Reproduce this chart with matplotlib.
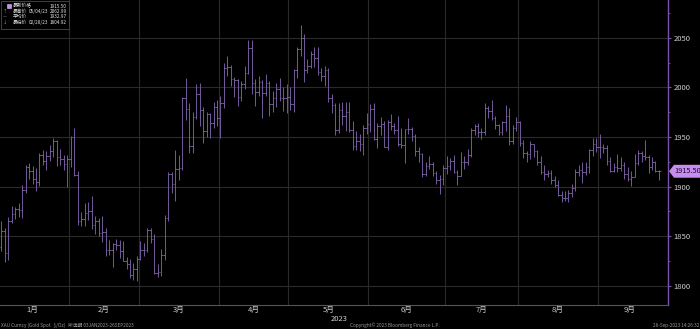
import numpy as np
import pandas as pd
import matplotlib
matplotlib.use("Agg")
import matplotlib.pyplot as plt
from matplotlib.patches import Polygon, Rectangle
from matplotlib.transforms import blended_transform_factory

plt.rcParams['font.family'] = ['Noto Sans CJK SC', 'DejaVu Sans']

# daily OHLC, XAU spot, 03JAN2023 - 26SEP2023
opens = [
    1824, 1839, 1855, 1833, 1865, 1872, 1877, 1876, 1897, 1920, 1916, 1908, 1905, 1932, 1926, 1931, 1936, 1946, 1930, 1928, 1923,
    1928, 1950, 1912, 1865, 1867, 1873, 1875, 1861, 1865, 1853, 1854, 1836, 1836, 1842, 1841, 1835, 1825, 1822, 1811, 1817,
    1827, 1836, 1836, 1856, 1847, 1813, 1814, 1831, 1868, 1913, 1903, 1918, 1919, 1989, 1978, 1941, 1970, 1993, 1977, 1956, 1973, 1964, 1980,
    1969, 1984, 2020, 2021, 2008, 2007, 1990, 2003, 2014, 2040, 2004, 1995, 2005, 1994, 2004, 1983, 1989, 1998, 1989, 1989,
    1990, 1983, 2017, 2039, 2050, 2017, 2022, 2034, 2030, 2015, 2011, 2017, 1989, 1982, 1957, 1977, 1971, 1975, 1957, 1941, 1946, 1943, 1959,
    1963, 1978, 1948, 1961, 1963, 1940, 1965, 1961, 1957, 1943, 1942, 1958, 1958, 1951, 1936, 1933, 1913, 1921, 1923, 1914, 1907, 1908,
    1919, 1921, 1926, 1915, 1911, 1925, 1925, 1932, 1957, 1961, 1955, 1955, 1979, 1976, 1969, 1962, 1955, 1965, 1971, 1946, 1959,
    1965, 1944, 1934, 1933, 1943, 1936, 1925, 1915, 1913, 1914, 1907, 1902, 1892, 1889, 1889, 1894, 1899, 1915, 1917, 1915, 1920, 1937, 1943,
    1940, 1940, 1939, 1926, 1916, 1920, 1919, 1922, 1913, 1908, 1910, 1924, 1934, 1931, 1930, 1920, 1925, 1916,
]
highs = [
    1851, 1865, 1858, 1869, 1881, 1880, 1884, 1902, 1922, 1924, 1921, 1919, 1934, 1937, 1936, 1942, 1949, 1947, 1938, 1932, 1932,
    1951, 1959, 1916, 1874, 1884, 1885, 1891, 1870, 1868, 1870, 1858, 1846, 1843, 1847, 1846, 1845, 1829, 1827, 1823, 1830,
    1845, 1843, 1858, 1858, 1852, 1822, 1837, 1871, 1915, 1915, 1937, 1932, 1990, 2009, 1984, 1975, 2003, 2004, 1980, 1975, 1974, 1985, 1987,
    1991, 2025, 2032, 2023, 2010, 2008, 2006, 2022, 2048, 2048, 2008, 2011, 2007, 2013, 2006, 1996, 2004, 2009, 2000, 2003,
    2000, 2019, 2041, 2063, 2054, 2029, 2037, 2041, 2041, 2020, 2022, 2020, 1993, 1984, 1984, 1985, 1985, 1985, 1966, 1956, 1953, 1962, 1974,
    1983, 1984, 1964, 1970, 1966, 1967, 1973, 1964, 1971, 1959, 1958, 1969, 1960, 1953, 1940, 1934, 1925, 1931, 1925, 1916, 1912, 1922,
    1931, 1929, 1932, 1917, 1935, 1931, 1938, 1959, 1963, 1964, 1959, 1984, 1981, 1987, 1971, 1963, 1966, 1982, 1979, 1962, 1970,
    1966, 1947, 1936, 1946, 1943, 1937, 1931, 1922, 1917, 1917, 1911, 1907, 1896, 1896, 1897, 1903, 1918, 1922, 1925, 1925, 1938, 1949, 1949,
    1953, 1943, 1942, 1930, 1924, 1933, 1930, 1925, 1920, 1916, 1933, 1937, 1936, 1947, 1932, 1930, 1926, 1917,
]
lows = [
    1822, 1835, 1824, 1826, 1863, 1867, 1869, 1868, 1894, 1908, 1903, 1896, 1901, 1922, 1917, 1926, 1930, 1921, 1922, 1917, 1900,
    1920, 1911, 1861, 1860, 1860, 1866, 1857, 1852, 1850, 1844, 1830, 1831, 1819, 1836, 1828, 1825, 1817, 1808, 1806, 1805,
    1826, 1830, 1834, 1843, 1812, 1809, 1810, 1826, 1865, 1894, 1886, 1907, 1917, 1967, 1934, 1934, 1968, 1961, 1944, 1950, 1949, 1959, 1961,
    1949, 1979, 2011, 2001, 1990, 1981, 1986, 1998, 2013, 1993, 1981, 1991, 1969, 1991, 1971, 1975, 1980, 1986, 1976, 1974,
    1977, 1975, 2009, 2032, 2005, 2014, 2020, 2021, 2012, 2006, 2001, 1985, 1974, 1952, 1954, 1962, 1956, 1955, 1937, 1937, 1936, 1932, 1953,
    1955, 1947, 1939, 1952, 1940, 1937, 1957, 1953, 1941, 1939, 1924, 1953, 1946, 1931, 1925, 1910, 1911, 1918, 1911, 1903, 1893, 1902,
    1913, 1917, 1914, 1902, 1911, 1918, 1922, 1930, 1952, 1950, 1948, 1952, 1969, 1967, 1958, 1952, 1952, 1956, 1942, 1943, 1956,
    1941, 1929, 1925, 1928, 1930, 1922, 1913, 1907, 1910, 1903, 1900, 1891, 1885, 1886, 1885, 1890, 1896, 1911, 1904, 1912, 1914, 1931, 1935,
    1929, 1934, 1922, 1915, 1915, 1915, 1916, 1908, 1906, 1901, 1910, 1922, 1925, 1927, 1914, 1917, 1915, 1907,
]
closes = [
    1839, 1855, 1833, 1865, 1872, 1877, 1876, 1897, 1920, 1916, 1908, 1905, 1932, 1926, 1931, 1936, 1946, 1930, 1928, 1923, 1928,
    1950, 1912, 1865, 1867, 1873, 1875, 1861, 1865, 1853, 1854, 1836, 1836, 1842, 1841, 1835, 1825, 1822, 1811, 1817, 1827,
    1836, 1836, 1856, 1847, 1813, 1814, 1831, 1868, 1913, 1903, 1918, 1919, 1989, 1978, 1941, 1970, 1993, 1977, 1956, 1973, 1964, 1980, 1969,
    1984, 2020, 2021, 2008, 2007, 1990, 2003, 2014, 2040, 2004, 1995, 2005, 1994, 2004, 1983, 1989, 1998, 1989, 1989, 1990,
    1983, 2017, 2039, 2050, 2017, 2022, 2034, 2030, 2015, 2011, 2017, 1989, 1982, 1957, 1977, 1971, 1975, 1957, 1941, 1946, 1943, 1959, 1963,
    1978, 1948, 1961, 1963, 1940, 1965, 1961, 1957, 1943, 1942, 1958, 1958, 1951, 1936, 1933, 1913, 1921, 1923, 1914, 1907, 1908, 1919,
    1921, 1926, 1915, 1911, 1925, 1925, 1932, 1957, 1961, 1955, 1955, 1979, 1976, 1969, 1962, 1955, 1965, 1971, 1946, 1959, 1965,
    1944, 1934, 1933, 1943, 1936, 1925, 1915, 1913, 1914, 1907, 1902, 1892, 1889, 1889, 1894, 1899, 1915, 1917, 1915, 1920, 1937, 1943, 1940,
    1940, 1939, 1926, 1916, 1920, 1919, 1922, 1913, 1908, 1910, 1924, 1934, 1931, 1930, 1920, 1925, 1916, 1915.5,
]
month_labels = ['1月', '2月', '3月', '4月', '5月', '6月', '7月', '8月', '9月']
y_ticks = [1800, 1850, 1900, 1950, 2000, 2050]

legend_rows = [
    ('最新价格', '', '1915.50'),
    ('最高价', '05/04/23', '2062.99'),
    ('平均价', '', '1932.97'),
    ('最低价', '02/28/23', '1804.92'),
]

W, H = 700, 329
bar_col = '#7c60a6'
purple = '#7a52b0'
grid_col = '#2a2a2a'
txt_col = '#d0d0d0'

dates = pd.bdate_range('2023-01-03', '2023-09-26')
x = np.arange(len(dates))
months = dates.month.values
starts = [int(np.argmax(months == m)) for m in range(1, 10)]
ends = starts[1:] + [len(dates)]
bounds = [s - 0.5 for s in starts[1:]]
centers = [(s + e - 1) / 2 for s, e in zip(starts, ends)]

fig = plt.figure(figsize=(W / 100, H / 100), dpi=100, facecolor='black')
ax = fig.add_axes([0, (H - 305) / H, 668 / W, 305 / H], facecolor='black')

ax.vlines(x, lows, highs, color=bar_col, lw=0.65)
ax.hlines(opens, x - 0.45, x, color=bar_col, lw=0.65)
ax.hlines(closes, x, x + 0.45, color=bar_col, lw=0.65)

ax.set_xlim(0.65, 192.6)
ax.set_ylim(1780.8, 2088)

ax.set_xticks(bounds)
ax.set_xticklabels([])
ax.set_xticks(centers, minor=True)
ax.set_xticklabels(month_labels, minor=True)
ax.tick_params(axis='x', which='both', length=0, colors=txt_col, labelsize=5.5, pad=1)

ax.yaxis.tick_right()
ax.set_yticks(y_ticks)
ax.set_yticks(np.arange(1800, 2076, 25), minor=True)
ax.tick_params(axis='y', which='major', length=2.5, color=purple, labelcolor=txt_col,
               labelsize=5.5, pad=1.5)
ax.tick_params(axis='y', which='minor', length=1.5, color=purple)
ax.grid(True, which='major', color=grid_col, lw=0.8)
ax.set_axisbelow(True)

for s in ['left', 'top']:
    ax.spines[s].set_visible(False)
ax.spines['right'].set_color(purple)
ax.spines['right'].set_linewidth(1.0)
ax.spines['bottom'].set_color('#555555')
ax.spines['bottom'].set_linewidth(0.8)

ax.text(centers[4] + 3, -0.045, '2023', transform=blended_transform_factory(ax.transData, ax.transAxes),
        color=txt_col, fontsize=5.5, ha='center', va='center')

# last price tag
last = closes[-1]
tr = blended_transform_factory(ax.transAxes, ax.transData)
tag = Polygon([(1.0015, last), (1.009, last + 6.5), (1.049, last + 6.5),
               (1.049, last - 6.5), (1.009, last - 6.5)], closed=True,
              transform=tr, clip_on=False, facecolor='#c68cf0', edgecolor='none')
ax.add_patch(tag)
ax.text(1.029, last, f'{last:.2f}', transform=tr, color='#1a0a24', fontsize=5.3,
        ha='center', va='center', clip_on=False)

# legend box top-left
fig.add_artist(Rectangle((1 / W, 1 - 29 / H), 68 / W, 28 / H, transform=fig.transFigure,
                         facecolor='black', edgecolor='#4a4a4a', lw=0.6))
fig.add_artist(Rectangle((6.5 / W, 1 - 8.3 / H), 4.5 / W, 4.3 / H, transform=fig.transFigure,
                         facecolor='#c68cf0', edgecolor='#e0c0ff', lw=0.4))
marks = ['', '↑', '—', '↓']
for i, (name, date, val) in enumerate(legend_rows):
    yy = 1 - (6.2 + 5.3 * i) / H
    if marks[i]:
        fig.text(3 / W, yy, marks[i], color='#a0a0a0', fontsize=3.2, ha='left', va='center')
    fig.text(13 / W, yy, name, color='#e0e0e0', fontsize=3.4, ha='left', va='center')
    if date:
        fig.text(28.5 / W, yy, date, color='#e0e0e0', fontsize=3.4, ha='left', va='center')
    fig.text(67 / W, yy, val, color='#e0e0e0', fontsize=3.4, ha='right', va='center')

# footer
fig.text(1 / W, 1 - 325.5 / H, 'XAU Curncy (Gold Spot   $/Oz)   所选期 03JAN2023-26SEP2023',
         color='#9a9a9a', fontsize=3.4, ha='left', va='center')
fig.text(350 / W, 1 - 325.5 / H, 'Copyright© 2023 Bloomberg Finance L.P.',
         color='#9a9a9a', fontsize=3.4, ha='left', va='center')
fig.text(699 / W, 1 - 325.5 / H, '26-Sep-2023 14:26:32',
         color='#9a9a9a', fontsize=3.4, ha='right', va='center')

fig.savefig('out.png', dpi=100, facecolor='black')
